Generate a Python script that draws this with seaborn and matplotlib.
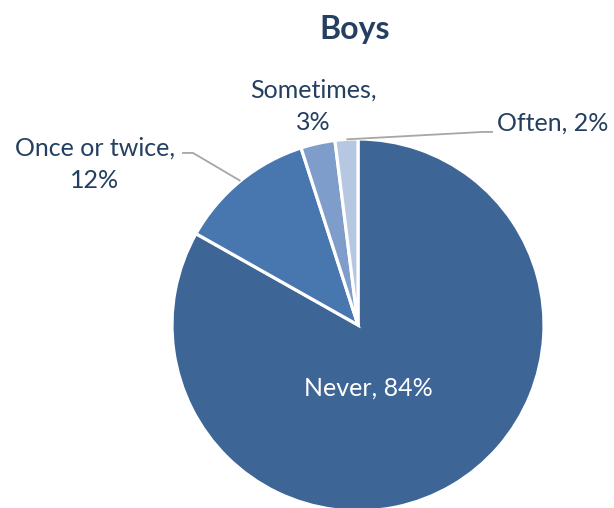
import numpy as np
import matplotlib
matplotlib.use("Agg")
import matplotlib.pyplot as plt
import seaborn as sns

# Survey answers for boys
categories = ["Never", "Once or twice", "Sometimes", "Often"]
percentages = [84, 12, 3, 2]
slice_colors = ["#3D6596", "#4877B0", "#7F9DCA", "#B6C7E2"]

sns.set_theme(style="white")
plt.rcParams["font.family"] = ["Lato", "DejaVu Sans"]

TEXT = "#243F60"
LEADER = "#A6A6A6"
FS = 18

fig = plt.figure(figsize=(6.14, 5.08), dpi=100)
ax = fig.add_axes([172 / 614, -3 / 508, 372 / 614, 372 / 508])

wedges, _ = ax.pie(
    percentages,
    colors=slice_colors,
    startangle=90,
    counterclock=False,
    wedgeprops=dict(edgecolor="white", linewidth=2.3),
)
ax.set_xlim(-1, 1)
ax.set_ylim(-1, 1)
ax.set_aspect("equal")
ax.axis("off")


def edge_point(w, r=1.0):
    mid = np.deg2rad((w.theta1 + w.theta2) / 2)
    return r * np.cos(mid), r * np.sin(mid)


labels = [f"{c}, {p}%" for c, p in zip(categories, percentages)]

# Largest slice: label inside
ax.text(0.054, -0.339, labels[0], color="white", fontsize=FS,
        ha="center", va="center")

# Once or twice: outside with elbow leader
x0, y0 = edge_point(wedges[1])
ax.plot([x0, -0.887, -0.946], [y0, 0.925, 0.925], color=LEADER, lw=1.3,
        clip_on=False, solid_capstyle="butt")
ax.text(-1.414, 0.866, f"{categories[1]},\n{percentages[1]}%", color=TEXT,
        fontsize=FS, ha="center", va="center", linespacing=1.5)

# Sometimes: outside, no leader
ax.text(-0.242, 1.177, f"{categories[2]},\n{percentages[2]}%", color=TEXT,
        fontsize=FS, ha="center", va="center", linespacing=1.5)

# Often: outside with elbow leader
x0, y0 = edge_point(wedges[3])
ax.plot([x0, 0.672, 0.726], [y0, 1.038, 1.038], color=LEADER, lw=1.3,
        clip_on=False, solid_capstyle="butt")
ax.text(0.747, 1.086, labels[3], color=TEXT, fontsize=FS,
        ha="left", va="center")

fig.text(355 / 614, 1 - 30 / 508, "Boys", color=TEXT, fontsize=23,
         fontweight="bold", ha="center", va="center")

fig.savefig("out.png", dpi=100)
